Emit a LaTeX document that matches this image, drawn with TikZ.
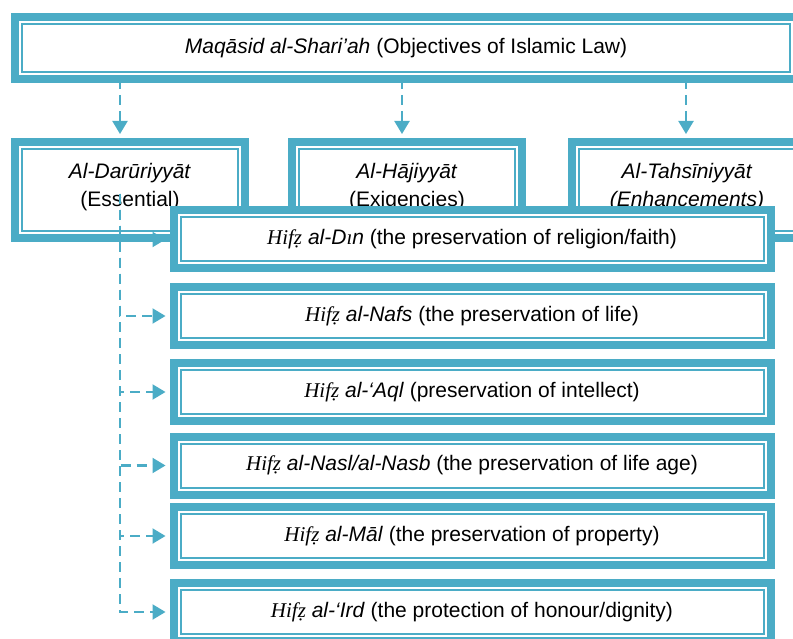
\documentclass[tikz,border=0pt]{standalone}
\usepackage{fontspec}
\setmainfont{Liberation Sans}
\newfontfamily\timesfam{Liberation Serif}
\usetikzlibrary{arrows.meta}
\definecolor{aqua}{RGB}{75,172,198}
\newcommand{\hifz}{{\timesfam\itshape Hifẓ}}
\begin{document}
\begin{tikzpicture}[x=1pt,y=-1pt,
  frame/.style={draw=aqua,line width=8pt,fill=white,inner sep=0pt,align=center,
    font=\fontsize{21}{28}\selectfont,
    path picture={\draw[aqua,line width=2pt]
      ([shift={(7pt,7pt)}]path picture bounding box.south west) rectangle
      ([shift={(-7pt,-7pt)}]path picture bounding box.north east);}},
  kind/.style={frame,minimum width=230pt,minimum height=96pt},
  goal/.style={frame,minimum width=597pt,minimum height=58pt},
  link/.style={color=aqua,line width=2.2pt,dash pattern=on 10pt off 6pt,
    -{Triangle[length=13pt,width=15pt,color=aqua,fill=aqua]},shorten >=4pt},
  elbow/.style={to path={|- (\tikztotarget)}}]
\useasboundingbox (0,0) rectangle (793,639);
\node[frame,minimum width=782pt,minimum height=62pt] (law) at (406,48)
  {\textit{Maqāsid al-Shari’ah} (Objectives of Islamic Law)};
\node[kind] (dar) at (130,190) {\textit{Al-Darūriyyāt}\\(Essential)\\[-17pt]\mbox{}};
\node[kind] (haj) at (407,190) {\textit{Al-Hājiyyāt}\\(Exigencies)\\[-17pt]\mbox{}};
\node[kind] (tah) at (687,190) {\textit{Al-Tahsīniyyāt}\\\textit{(Enhancements)}\\[-17pt]\mbox{}};
\node[goal] (din) at (472,239.5) {\hifz\ \textit{al-D{\timesfam ı}n} (the preservation of religion/faith)};
\node[goal] (nafs) at (472,316) {\hifz\ \textit{al-Nafs} (the preservation of life)};
\node[goal] (aql) at (472,392) {\hifz\ \textit{al-‘Aql} (preservation of intellect)};
\node[goal] (nasl) at (472,465.5) {\hifz\ \textit{al-Nasl/al-Nasb} (the preservation of life age)};
\node[goal] (mal) at (472,536) {\hifz\ \textit{al-Māl} (the preservation of property)};
\node[goal] (ird) at (472,612) {\hifz\ \textit{al-‘Ird} (the protection of honour/dignity)};
\coordinate (d1) at (120,79);
\coordinate (d2) at (402,79);
\coordinate (d3) at (686,79);
\coordinate (trunk) at (120,194);
\path[link]
  (d1) edge (d1 |- dar.north)
  (d2) edge (d2 |- haj.north)
  (d3) edge (d3 |- tah.north)
  (trunk) edge[elbow] (din.west)
  (trunk) edge[elbow] (nafs.west)
  (trunk) edge[elbow] (aql.west)
  (trunk) edge[elbow] (nasl.west)
  (trunk) edge[elbow] (mal.west)
  (trunk) edge[elbow] (ird.west)
;
\end{tikzpicture}
\end{document}
